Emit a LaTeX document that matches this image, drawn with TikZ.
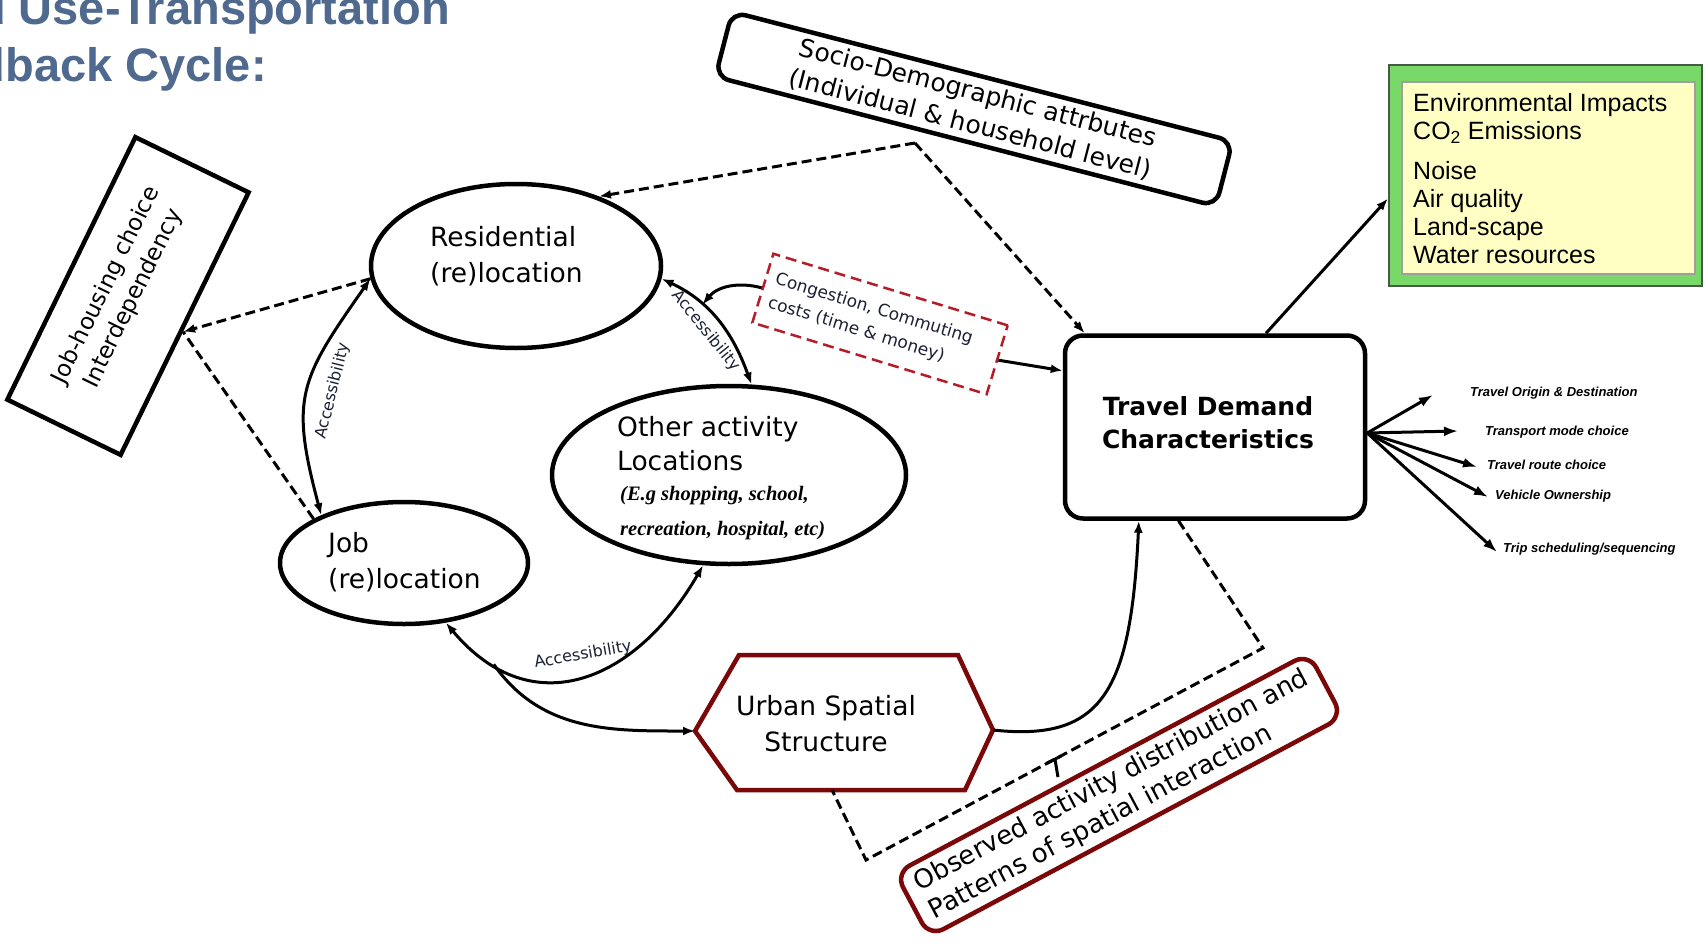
\documentclass[tikz,border=0pt]{standalone}
\usepackage{fontspec}
\setmainfont{DejaVu Sans}
\newfontfamily\arialfont{Liberation Sans}
\newfontfamily\timesfont{Liberation Serif}
\usetikzlibrary{arrows.meta,shapes.geometric,calc}

\definecolor{titleblue}{RGB}{79,105,143}
\definecolor{urbred}{RGB}{122,8,8}
\definecolor{congred}{RGB}{180,28,40}
\definecolor{envgreen}{RGB}{120,216,104}
\definecolor{envedge}{RGB}{70,90,70}
\definecolor{envyellow}{RGB}{255,255,196}
\definecolor{inkblue}{RGB}{28,32,52}

\tikzset{
  boldbox/.style={draw, line width=4.5pt},
  dashln/.style={line width=3pt, dash pattern=on 10pt off 5pt},
  conn/.style={line width=3pt},
  arr/.style={-{Latex[length=12pt,width=9pt]}},
  darr/.style={{Latex[length=12pt,width=9pt]}-{Latex[length=12pt,width=9pt]}},
  fanarr/.style={line width=3pt, -{Latex[length=14pt,width=10pt]}},
  maintext/.style={align=left, font=\fontsize{26.5}{36}\selectfont},
  acclabel/.style={font=\fontsize{16}{16}\selectfont, text=inkblue},
  fanlabel/.style={anchor=west, font=\arialfont\bfseries\itshape\fontsize{13}{13}\selectfont},
  titletext/.style={anchor=base east, text=titleblue, font=\arialfont\bfseries\fontsize{47}{57}\selectfont},
}

\begin{document}
\begin{tikzpicture}[x=1pt, y=-1pt, every node/.style={inner sep=0pt}]
\useasboundingbox (0,0) rectangle (1704,947);
\clip (0,0) rectangle (1704,947);
\fill[white] (0,0) rectangle (1704,947);

% heading
\node[titletext] (title1) at (450,25) {Land Use-Transportation};
\node[titletext] (title2) at (267,82) {Feedback Cycle:};

% job-housing interdependency box
\node[boldbox, rotate=64, minimum width=292pt, minimum height=126pt] (jh) at (128,296) {};
\node[rotate=64, align=center, font=\fontsize{23}{30}\selectfont] (jhT) at (120,292) {Job-housing choice\\Interdependency};

% socio-demographic attributes
\node[boldbox, rounded corners=14pt, rotate=-14.5, minimum width=517pt, minimum height=67pt,
      align=center, font=\fontsize{25}{32}\selectfont] (socio) at (974,109)
      {Socio-Demographic attrbutes\\(Individual \& household level)};

% environmental impacts
\node[draw=envedge, line width=2pt, fill=envgreen, minimum width=313pt, minimum height=221pt] (envout) at (1545.5,175.5) {};
\node[draw=gray!75, line width=1.5pt, fill=envyellow, minimum width=293pt, minimum height=192pt] (env) at (1548.5,178) {};
\node[anchor=north west, align=left, font=\arialfont\fontsize{25}{28}\selectfont] (envT) at (1413,93)
      {Environmental Impacts\\CO\textsubscript{2} Emissions\\[12pt]Noise\\Air quality\\Land-scape\\Water resources};

% location choices
\node[ellipse, boldbox, minimum width=290pt, minimum height=164pt] (res) at (516,266) {};
\node[maintext, anchor=west] (resT) at (430,256) {Residential\\(re)location};

\node[ellipse, boldbox, minimum width=354pt, minimum height=178pt] (other) at (729,475) {};
\node[anchor=west, align=left, font=\fontsize{26.5}{34}\selectfont] (othA) at (617,444) {Other activity\\Locations};
\node[anchor=west, align=left, font=\timesfont\bfseries\itshape\fontsize{20.5}{35}\selectfont] (othB) at (620,513)
      {(E.g shopping, school,\\recreation, hospital, etc)};

\node[ellipse, boldbox, minimum width=248pt, minimum height=122pt] (job) at (404,563) {};
\node[maintext, anchor=west] (jobT) at (328,562) {Job\\(re)location};

% travel demand
\node[boldbox, rounded corners=18pt, minimum width=300pt, minimum height=183pt] (travel) at (1215,427) {};
\node[align=center, font=\bfseries\fontsize{25}{33}\selectfont] (travelT) at (1208,423) {Travel Demand\\Characteristics};

% congestion costs
\node[draw=congred, line width=2.5pt, dash pattern=on 11pt off 6pt, rotate=-17, minimum width=245pt, minimum height=72pt,
      align=left, text=inkblue, font=\fontsize{17}{25}\selectfont] (cong) at (880,324)
      {Congestion, Commuting\hspace*{20pt}\\costs (time \& money)};

% urban spatial structure (hexagon)
\coordinate (usL) at (695,731);
\coordinate (usR) at (993,730);
\coordinate (usB) at (832,790);
\draw[draw=urbred, line width=4.5pt, line join=miter] (usL) -- (739,655) -- (958,655) -- (usR) -- (965,790) -- (737,790) -- cycle;
\node[align=center, font=\fontsize{26.5}{36}\selectfont] (urban) at (826,724) {Urban Spatial\\Structure};

% observed activity distribution
\node[draw=urbred, line width=4.5pt, rounded corners=16pt, rotate=28, minimum width=468pt, minimum height=72pt,
      align=left, font=\fontsize{26}{32}\selectfont] (obs) at (1119,795)
      {Observed activity distribution and\\Patterns of spatial interaction};

% accessibility labels
\node[acclabel, rotate=76] (acc1) at (333,391) {Accessibility};
\node[acclabel, rotate=-51] (acc2) at (706,331) {Accessibility};
\node[acclabel, rotate=10] (acc3) at (583,655) {Accessibility};

% travel demand outcomes
\node[fanlabel] (f1) at (1470,393) {Travel Origin \& Destination};
\node[fanlabel] (f2) at (1485,432) {Transport mode choice};
\node[fanlabel] (f3) at (1487,465) {Travel route choice};
\node[fanlabel] (f4) at (1495,496) {Vehicle Ownership};
\node[fanlabel] (f5) at (1503,549) {Trip scheduling/sequencing};

% attachment points
\coordinate (sd) at (915,143);
\coordinate (tvNW) at ($(travel.north west)+(22,0)$);
\coordinate (tvN) at ($(travel.north)+(51,0)$);
\coordinate (tvW) at ($(travel.north west)!0.2!(travel.south west)$);
\coordinate (tvS) at ($(travel.south west)!0.25!(travel.south east)$);
\coordinate (brS) at ($(travel.south west)!0.38!(travel.south east)$);
\coordinate (envIn) at ($(envout.west)+(0,23)$);
\coordinate (jhIn) at ($(jh.south)!8pt!(jh.south west)$);
\coordinate (fan) at ($(travel.east)+(0,6)$);

% socio-demographic influences
\draw[dashln, arr] (sd) -- (res.40);
\draw[dashln, arr] (sd) -- (tvNW);

% job-housing interdependency
\draw[dashln, arr] (res.185) -- (jhIn);
\draw[dashln] (job.154) -- (jhIn);

% accessibility links
\draw[conn, darr] (res.185) to[out=235, in=105, looseness=1.3] (job.150);
\draw[conn, darr] (res.355) to[out=-25, in=110] coordinate[pos=0.33] (accRO) (other.76);
\draw[conn, darr] (job.305) to[out=-50, in=-120, looseness=1.3] coordinate[pos=0.18] (jo) (other.254);

% congestion feedback
\draw[conn, arr] (cong.west) to[out=165, in=50] (accRO);
\draw[conn, arr] (cong.east) -- (tvW);

% urban structure
\draw[conn, arr] (jo) to[out=-55, in=180] (usL);
\draw[conn, arr] (usR) .. controls +(110,12) and +(-8,170) .. (tvS);

% observed patterns bracket with its mid tick
\coordinate (brA) at (1263,648);
\coordinate (brB) at (866,860);
\coordinate (brM) at ($(brA)!0.524!(brB)$);
\coordinate (brT) at ($(brM)+(3,18)$);
\draw[dashln] (brS) -- (brA) -- (brB) -- (usB);
\draw[line width=3pt] ($(brM)+(-8,4)$) -- ($(brM)+(6,-3)$);
\draw[line width=3pt] (brM) -- (brT);

% impacts
\draw[conn, arr] (tvN) -- (envIn);

% travel demand outcomes
\coordinate (t1) at ($(f1.west)+(-37,2)$);
\coordinate (t2) at ($(f2.west)+(-27,-1)$);
\coordinate (t3) at ($(f3.west)+(-10,2)$);
\coordinate (t4) at ($(f4.west)+(-7,1)$);
\coordinate (t5) at ($(f5.west)+(-6,3)$);
\foreach \t in {t1,t2,t3,t4,t5}
  \draw[fanarr] (fan) -- (\t);
\end{tikzpicture}
\end{document}
